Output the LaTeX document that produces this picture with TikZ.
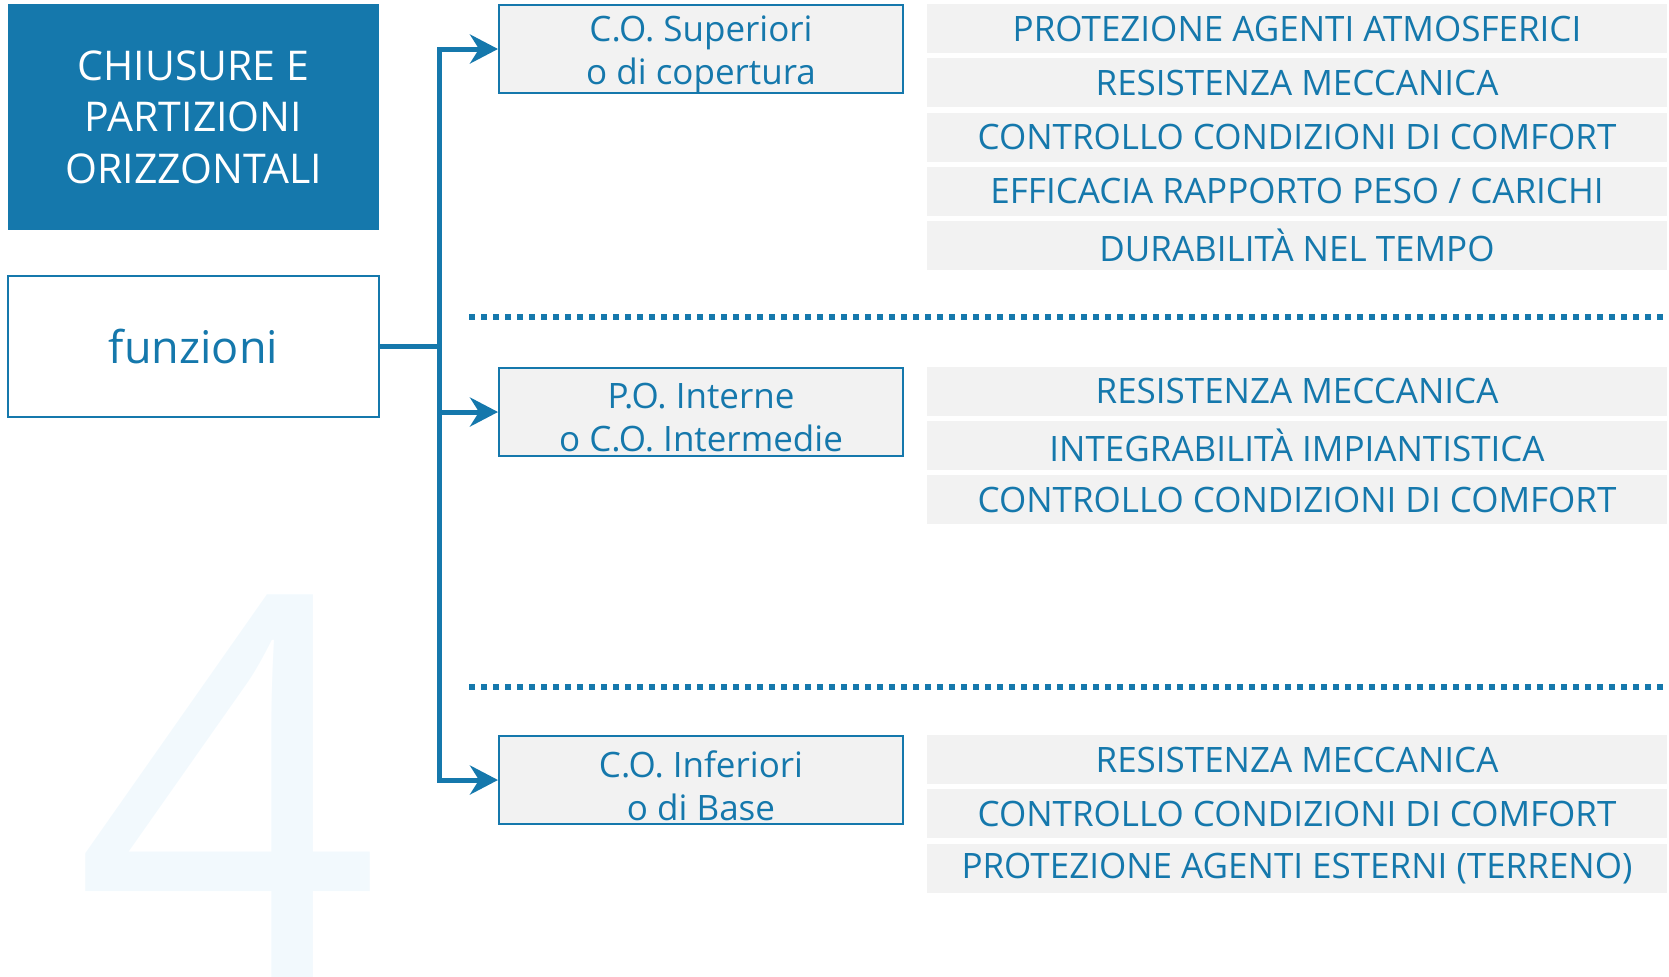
\documentclass[tikz,border=0pt]{standalone}
\usepackage{fontspec}
\setmainfont{Open Sans}
\usetikzlibrary{arrows.meta}

\definecolor{mainblue}{HTML}{1578AC}
\definecolor{rowgray}{HTML}{F2F2F2}
\definecolor{ghostblue}{HTML}{F2F9FD}

\tikzset{
  titlebox/.style={fill=mainblue, text=white, inner sep=0pt, align=center,
    minimum width=185.5pt, minimum height=113pt,
    font=\fontsize{20.5}{25.8}\selectfont},
  funcbox/.style={draw=mainblue, line width=1pt, fill=white, text=mainblue, inner sep=0pt,
    minimum width=185.5pt, minimum height=70.5pt, font=\fontsize{22.5}{27}\selectfont},
  groupbox/.style={draw=mainblue, line width=1pt, fill=rowgray, inner sep=0pt,
    minimum width=202pt, minimum height=44pt},
  grouptext/.style={text=mainblue, inner sep=0pt, align=center,
    font=\fontsize{17.5}{21.5}\selectfont},
  itembox/.style={fill=rowgray, text=mainblue, inner sep=0pt,
    minimum width=370pt, minimum height=24.5pt,
    font=\fontsize{17.5}{21}\selectfont},
  branch/.style={draw=mainblue, line width=2.5pt},
  branchto/.style={branch, -{Stealth[length=14pt, width=14.5pt, inset=4.5pt]}},
  divider/.style={draw=mainblue, line width=3pt, dash pattern=on 3pt off 3pt}
}

\begin{document}
\begin{tikzpicture}[x=0.5pt, y=-0.5pt]
\useasboundingbox (0,0) rectangle (1669,976);

% Ghost number
\node [anchor=base, text=ghostblue, inner sep=0pt, font=\fontsize{268}{268}\selectfont] (num) at ( 228, 979 ) {4};

% Left column
\node [titlebox] (title) at ( 193.5, 117 ) {CHIUSURE E\\PARTIZIONI\\ORIZZONTALI};
\node [funcbox] (funz) at ( 193.5, 346.5 ) {funzioni};

% Groups
\node [groupbox] (sup) at ( 701, 49 ) {};
\node [grouptext] (sup-txt) at ([yshift=-2.8pt]sup.center) {C.O. Superiori\\o di copertura};
\node [groupbox] (int) at ( 701, 412 ) {};
\node [grouptext] (int-txt) at ([yshift=-2.8pt]int.center) {P.O. Interne\\o C.O. Intermedie};
\node [groupbox] (inf) at ( 701, 780 ) {};
\node [grouptext] (inf-txt) at ([yshift=-2.8pt]inf.center) {C.O. Inferiori\\o di Base};

% Requirements
\foreach \req [count=\i from 0] in {PROTEZIONE AGENTI ATMOSFERICI, RESISTENZA MECCANICA,
    CONTROLLO CONDIZIONI DI COMFORT, EFFICACIA RAPPORTO PESO / CARICHI, DURABILITÀ NEL TEMPO}
  \node [itembox] (sup-\i) at ( 1297, 28.5 + 54.3*\i ) {\req};
\foreach \req [count=\i from 0] in {RESISTENZA MECCANICA, INTEGRABILITÀ IMPIANTISTICA,
    CONTROLLO CONDIZIONI DI COMFORT}
  \node [itembox] (int-\i) at ( 1297, 391 + 54.3*\i ) {\req};
\foreach \req [count=\i from 0] in {RESISTENZA MECCANICA, CONTROLLO CONDIZIONI DI COMFORT,
    PROTEZIONE AGENTI ESTERNI (TERRENO)}
  \node [itembox] (inf-\i) at ( 1297, 759.5 + 54.3*\i ) {\req};

% Dividers
\coordinate (d1a) at ( 469, 317 );
\coordinate (d1b) at ( 1669, 317 );
\coordinate (d2a) at ( 469, 687 );
\coordinate (d2b) at ( 1669, 687 );
\draw [divider] (d1a) -- (d1b);
\draw [divider] (d2a) -- (d2b);

% Branches
\coordinate (fork) at ( 439, 346.5 );
\draw [branch] (funz.east) -- (fork);
\draw [branchto] (fork) |- (sup.west);
\draw [branchto] (fork) |- (int.west);
\draw [branchto] (fork) |- (inf.west);

\end{tikzpicture}
\end{document}
